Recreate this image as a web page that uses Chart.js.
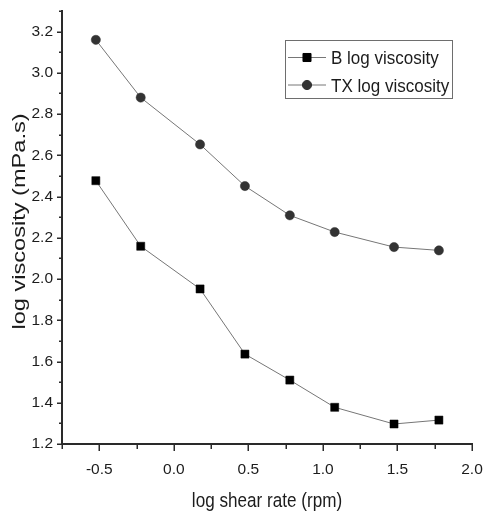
<!DOCTYPE html>
<html>
<head>
<meta charset="utf-8">
<style>
  html, body { margin: 0; padding: 0; background: #ffffff; }
  #wrap { width: 483px; height: 515px; }
</style>
<script src="https://cdn.jsdelivr.net/npm/chart.js@4"></script>
</head>
<body>
<div id="wrap"><canvas id="chart" width="483" height="515"></canvas></div>
<script>
// Shear-rate sweep: log10 of spindle speed (rpm)
const logShearRate = [-0.523, -0.222, 0.176, 0.477, 0.778, 1.079, 1.477, 1.778];
// log10 viscosity (mPa.s) for each sample
const bLogViscosity  = [2.477, 2.159, 1.952, 1.636, 1.510, 1.378, 1.297, 1.316];
const txLogViscosity = [3.160, 2.880, 2.653, 2.451, 2.309, 2.228, 2.155, 2.139];

const seriesNames = ['B log viscosity', 'TX log viscosity'];
const xTitle = 'log shear rate (rpm)';
const yTitle = 'log viscosity (mPa.s)';

// Axis ticks (major labelled, minor unlabelled)
const xTicks = [-0.5, 0.0, 0.5, 1.0, 1.5, 2.0];
const xMinorTicks = [-0.75, -0.25, 0.25, 0.75, 1.25, 1.75];
const yTicks = [1.2, 1.4, 1.6, 1.8, 2.0, 2.2, 2.4, 2.6, 2.8, 3.0, 3.2];
const yMinorTicks = [1.3, 1.5, 1.7, 1.9, 2.1, 2.3, 2.5, 2.7, 2.9, 3.1, 3.3];

const INK = '#1c1c1c';
const AXIS = '#2a2a2a';
const LINE = '#767676';
const FONT = '"Liberation Sans", Arial, sans-serif';

const toPoints = (ys) => logShearRate.map((x, i) => ({ x, y: ys[i] }));

// Tick marks, axis titles and the framed legend
const decorations = {
  id: 'decorations',
  afterDraw(chart) {
    const { ctx, chartArea } = chart;
    const xs = chart.scales.x, ys = chart.scales.y;
    ctx.save();

    // outward tick marks
    ctx.strokeStyle = AXIS;
    ctx.lineWidth = 1.5;
    ctx.beginPath();
    const tickX = (v, len) => {
      const p = Math.round(xs.getPixelForValue(v)) + 0.25;
      ctx.moveTo(p, chartArea.bottom);
      ctx.lineTo(p, chartArea.bottom + len);
    };
    const tickY = (v, len) => {
      const p = Math.round(ys.getPixelForValue(v)) + 0.25;
      ctx.moveTo(chartArea.left, p);
      ctx.lineTo(chartArea.left - len, p);
    };
    xTicks.forEach(v => tickX(v, 7));
    xMinorTicks.forEach(v => tickX(v, 5));
    yTicks.forEach(v => tickY(v, 5));
    yMinorTicks.forEach(v => tickY(v, 3));
    ctx.stroke();

    ctx.fillStyle = INK;
    ctx.textAlign = 'center';
    ctx.textBaseline = 'alphabetic';

    // x axis title
    ctx.save();
    ctx.font = '20.5px ' + FONT;
    ctx.translate((chartArea.left + chartArea.right) / 2, 507);
    ctx.scale(0.835, 1);
    ctx.fillText(xTitle, 0, 0);
    ctx.restore();

    // y axis title
    ctx.save();
    ctx.font = '18px ' + FONT;
    ctx.translate(25, 221.5);
    ctx.rotate(-Math.PI / 2);
    ctx.scale(1.31, 1);
    ctx.fillText(yTitle, 0, 0);
    ctx.restore();

    // legend
    const box = { x: 285.5, y: 40.5, w: 167, h: 58 };
    ctx.strokeStyle = '#6e6e6e';
    ctx.lineWidth = 1;
    ctx.strokeRect(box.x, box.y, box.w, box.h);
    const rows = [57.5, 85];
    chart.data.datasets.forEach((ds, i) => {
      const y = rows[i];
      ctx.strokeStyle = ds.borderColor;
      ctx.lineWidth = ds.borderWidth;
      ctx.beginPath();
      ctx.moveTo(288, y);
      ctx.lineTo(326, y);
      ctx.stroke();
      ctx.fillStyle = ds.pointBackgroundColor;
      ctx.strokeStyle = ds.pointBorderColor;
      Chart.helpers.drawPoint(ctx, {
        pointStyle: ds.pointStyle,
        radius: ds.pointRadius,
        borderWidth: ds.pointBorderWidth,
        rotation: 0
      }, 307, y);
      ctx.save();
      ctx.fillStyle = INK;
      ctx.font = '18.5px ' + FONT;
      ctx.textAlign = 'left';
      ctx.translate(331, y + 6.6);
      ctx.scale(0.92, 1);
      ctx.fillText(ds.label, 0, 0);
      ctx.restore();
    });

    ctx.restore();
  }
};

new Chart(document.getElementById('chart'), {
  type: 'line',
  data: {
    datasets: [
      {
        label: seriesNames[0],
        data: toPoints(bLogViscosity),
        borderColor: LINE,
        borderWidth: 1,
        pointStyle: 'rect',
        pointRadius: 5.7,
        pointBackgroundColor: '#000000',
        pointBorderColor: '#000000',
        pointBorderWidth: 0.5,
        tension: 0
      },
      {
        label: seriesNames[1],
        data: toPoints(txLogViscosity),
        borderColor: LINE,
        borderWidth: 1,
        pointStyle: 'circle',
        pointRadius: 4.6,
        pointBackgroundColor: '#333333',
        pointBorderColor: '#333333',
        pointBorderWidth: 0.5,
        tension: 0
      }
    ]
  },
  options: {
    responsive: false,
    animation: false,
    devicePixelRatio: 1,
    layout: { padding: { top: 11, right: 11, left: 0, bottom: 0 } },
    plugins: {
      legend: { display: false },
      tooltip: { enabled: false },
      title: { display: false }
    },
    scales: {
      x: {
        type: 'linear',
        min: -0.75,
        max: 2.0,
        afterBuildTicks: (s) => { s.ticks = xTicks.map(v => ({ value: v })); },
        afterFit: (s) => {
          s.height = 71;
          s.paddingLeft = 0; s.paddingRight = 0;
          s.paddingTop = 0; s.paddingBottom = 0;
        },
        grid: { display: false, drawTicks: false },
        border: { display: true, color: AXIS, width: 2 },
        ticks: {
          padding: 16,
          color: INK,
          font: { family: FONT, size: 15.5 },
          maxRotation: 0,
          callback: (v) => Number(v).toFixed(1)
        }
      },
      y: {
        type: 'linear',
        min: 1.2,
        max: 3.3,
        afterBuildTicks: (s) => { s.ticks = yTicks.map(v => ({ value: v })); },
        afterFit: (s) => {
          s.width = 62;
          s.paddingLeft = 0; s.paddingRight = 0;
          s.paddingTop = 0; s.paddingBottom = 0;
        },
        grid: { display: false, drawTicks: false },
        border: { display: true, color: AXIS, width: 2 },
        ticks: {
          padding: 9,
          color: INK,
          font: { family: FONT, size: 15.5 },
          callback: (v) => Number(v).toFixed(1)
        }
      }
    }
  },
  plugins: [decorations]
});
</script>
</body>
</html>
